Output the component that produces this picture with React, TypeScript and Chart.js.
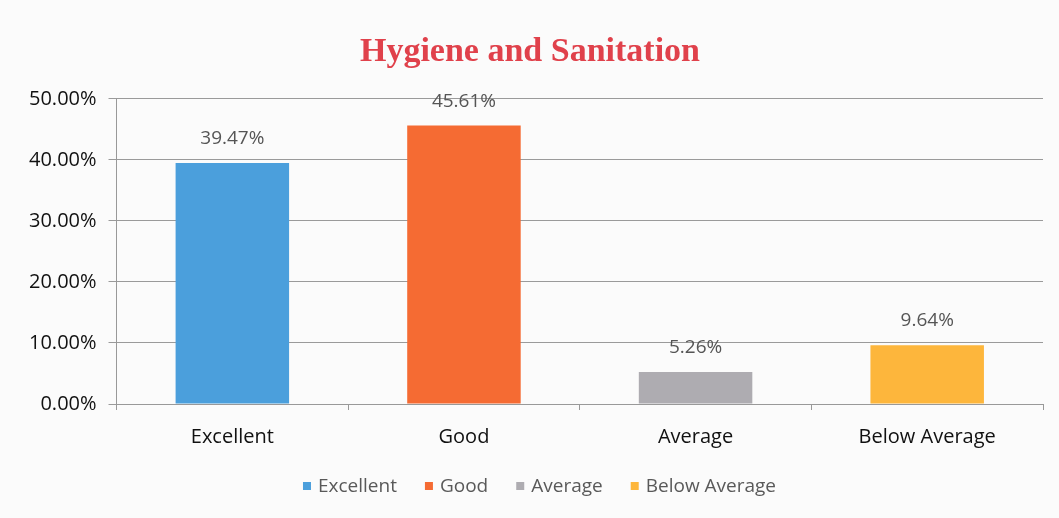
import React, { useEffect, useRef } from "react";
import { Chart, registerables } from "chart.js";

Chart.register(...registerables);

const categories = ["Excellent", "Good", "Average", "Below Average"];
const values = [39.47, 45.61, 5.26, 9.64];
const valueLabels = ["39.47%", "45.61%", "5.26%", "9.64%"];
const barColors = ["#4b9fdc", "#f56b33", "#aeacb1", "#fdb63c"];
const yTicks = [0, 10, 20, 30, 40, 50];

const dataLabelPlugin = {
  id: "dataLabels",
  afterDatasetsDraw(chart: any) {
    const ctx = chart.ctx;
    const meta = chart.getDatasetMeta(0);
    ctx.save();
    ctx.font = "19px 'Open Sans', sans-serif";
    ctx.fillStyle = "#555555";
    ctx.textAlign = "center";
    ctx.textBaseline = "alphabetic";
    meta.data.forEach((bar: any, i: number) => {
      ctx.fillText(valueLabels[i], bar.x, bar.y - 19);
    });
    ctx.restore();
  },
};

const legendPlugin = {
  id: "customLegend",
  afterDraw(chart: any) {
    const ctx = chart.ctx;
    ctx.save();
    ctx.font = "19px 'Open Sans', sans-serif";
    ctx.textBaseline = "middle";
    ctx.textAlign = "left";
    const box = 8;
    const boxGap = 7;
    const itemGap = 28;
    const widths = categories.map((c) => ctx.measureText(c).width);
    const total =
      widths.reduce((a, b) => a + b, 0) + categories.length * (box + boxGap) + (categories.length - 1) * itemGap;
    let x = (chart.width - total) / 2 + 10;
    const y = 486;
    categories.forEach((c, i) => {
      ctx.fillStyle = barColors[i];
      ctx.fillRect(x, y - box / 2, box, box);
      x += box + boxGap;
      ctx.fillStyle = "#595959";
      ctx.fillText(c, x, y + 1);
      x += widths[i] + itemGap;
    });
    ctx.restore();
  },
};

const bgPlugin = {
  id: "bg",
  beforeDraw(chart: any) {
    const ctx = chart.ctx;
    ctx.save();
    ctx.fillStyle = "#fbfbfb";
    ctx.fillRect(0, 0, chart.width, chart.height);
    ctx.restore();
  },
};

export default function App() {
  const ref = useRef<HTMLCanvasElement | null>(null);
  useEffect(() => {
    if (!ref.current) return;
    const chart = new Chart(ref.current, {
      type: "bar",
      data: {
        labels: categories,
        datasets: [
          {
            data: values,
            backgroundColor: barColors,
            barPercentage: 0.49,
            categoryPercentage: 1,
          },
        ],
      },
      plugins: [bgPlugin, dataLabelPlugin, legendPlugin],
      options: {
        animation: false,
        responsive: false,
        maintainAspectRatio: false,
        layout: { padding: { left: 17, right: 16, top: 10, bottom: 54 } },
        plugins: {
          title: {
            display: true,
            text: "Hygiene and Sanitation",
            color: "#e0414b",
            font: { family: "'Liberation Serif', serif", size: 34, weight: "bold" },
            padding: { top: 22, bottom: 26 },
          },
          legend: { display: false },
          tooltip: { enabled: false },
        },
        scales: {
          x: {
            grid: {
              display: true,
              drawOnChartArea: false,
              drawTicks: true,
              tickLength: 6,
              color: "#999999",
              offset: true,
            },
            border: { display: true, color: "#999999" },
            ticks: {
              color: "#111111",
              padding: 15,
              font: { family: "'Open Sans', sans-serif", size: 20 },
            },
          },
          y: {
            min: 0,
            max: 50,
            afterBuildTicks: (axis: any) => {
              axis.ticks = yTicks.map((v) => ({ value: v }));
            },
            grid: { color: "#9a9a9a", tickLength: 8 },
            border: { display: true, color: "#999999" },
            ticks: {
              color: "#111111",
              padding: 12,
              font: { family: "'Open Sans', sans-serif", size: 20 },
              callback: (v: any) => Number(v).toFixed(2) + "%",
            },
          },
        },
      },
    } as any);
    return () => chart.destroy();
  }, []);
  return (
    <div style={{ position: "fixed", left: 0, top: 0, width: 1059, height: 518 }}>
      <canvas ref={ref} width={1059} height={518} style={{ width: 1059, height: 518 }} />
    </div>
  );
}
